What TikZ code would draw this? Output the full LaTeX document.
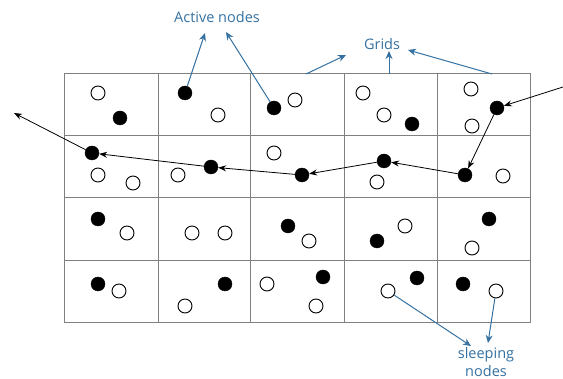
\documentclass[tikz,border=0pt]{standalone}
\usepackage{fontspec}
\setmainfont{Open Sans}
\usetikzlibrary{arrows.meta}
\definecolor{callout}{RGB}{52,112,160}
\definecolor{gridgray}{RGB}{128,128,128}
\tikzset{
  awake/.style={circle, draw=black, fill=black, inner sep=0pt, minimum size=14pt},
  asleep/.style={circle, draw=black, line width=0.9pt, fill=white, inner sep=0pt, minimum size=14pt},
  hop/.style={draw=black, line width=0.8pt, -{Stealth[length=8pt,width=6pt]}},
  pointer/.style={draw=callout, line width=1pt, -{Stealth[length=8pt,width=7pt]}},
  lbl/.style={text=callout, font=\fontsize{14.5}{18}\selectfont, inner sep=0pt, align=center}
}
\begin{document}
\begin{tikzpicture}[x=1pt, y=-1pt]
\useasboundingbox (0,0) rectangle (563,379);

% 5 x 4 grid of cells
\draw[gridgray, line width=1pt] (64,74) rectangle (530,323);
\foreach \xx in {158,250,344,437} \draw[gridgray, line width=1pt] (\xx,74) -- (\xx,323);
\foreach \yy in {136,198,261} \draw[gridgray, line width=1pt] (64,\yy) -- (530,\yy);

% row 1
\node[asleep] (a11) at (98,93) {};
\node[awake]  (b11) at (120,118) {};
\node[awake]  (b12) at (185,93) {};
\node[asleep] (a12) at (218,115) {};
\node[awake]  (b13) at (274,108) {};
\node[asleep] (a13) at (295,100) {};
\node[asleep] (a14) at (363,93) {};
\node[asleep] (c14) at (384,115) {};
\node[awake]  (b14) at (412,124) {};
\node[asleep] (a15) at (471,89) {};
\node[awake]  (b15) at (497,108) {};
\node[asleep] (c15) at (472,126) {};

% row 2
\node[awake]  (b21) at (92,153) {};
\node[asleep] (a21) at (98,175) {};
\node[asleep] (c21) at (133,183) {};
\node[asleep] (a22) at (178,175) {};
\node[awake]  (b22) at (211,167) {};
\node[asleep] (a23) at (274,153) {};
\node[awake]  (b23) at (302,175) {};
\node[awake]  (b24) at (384,161) {};
\node[asleep] (a24) at (377,182) {};
\node[awake]  (b25) at (465,175) {};
\node[asleep] (a25) at (503,176) {};

% row 3
\node[awake]  (b31) at (98,219) {};
\node[asleep] (a31) at (127,233) {};
\node[asleep] (a32) at (192,233) {};
\node[asleep] (c32) at (225,233) {};
\node[awake]  (b33) at (288,226) {};
\node[asleep] (a33) at (309,241) {};
\node[awake]  (b34) at (377,241) {};
\node[asleep] (a34) at (405,226) {};
\node[awake]  (b35) at (489,219) {};
\node[asleep] (a35) at (472,248) {};

% row 4
\node[awake]  (b41) at (98,284) {};
\node[asleep] (a41) at (119,291) {};
\node[awake]  (b42) at (225,284) {};
\node[asleep] (a42) at (185,306) {};
\node[asleep] (a43) at (267,284) {};
\node[awake]  (b43) at (323,277) {};
\node[asleep] (c43) at (316,306) {};
\node[asleep] (a44) at (388,291) {};
\node[awake]  (b44) at (417,278) {};
\node[awake]  (b45) at (463,284) {};
\node[asleep] (a45) at (496,291) {};

% route through the active nodes
\coordinate (entry) at (563,87);
\coordinate (exit) at (14,113);
\draw[hop] (entry) -- (b15);
\draw[hop] (b15) -- (b25);
\draw[hop] (b25) -- (b24);
\draw[hop] (b24) -- (b23);
\draw[hop] (b23) -- (b22);
\draw[hop] (b22) -- (b21);
\draw[hop] (b21) -- (exit);

% labels
\node[lbl] (activelbl) at (217,17) {Active nodes};
\node[lbl] (gridlbl) at (382,44) {Grids};
\node[lbl] (sleeplbl) at (486,362) {sleeping\\nodes};

\coordinate (actA) at (205,33);
\coordinate (actB) at (226,32);
\draw[pointer] (b12) -- (actA);
\draw[pointer] (b13) -- (actB);

\coordinate (gl1) at (306,74);
\coordinate (gl2) at (389,74);
\coordinate (gl3) at (492,74);
\coordinate (gt1) at (346,55);
\coordinate (gt2) at (389,51);
\coordinate (gt3) at (408,50);
\draw[pointer] (gl1) -- (gt1);
\draw[pointer] (gl2) -- (gt2);
\draw[pointer] (gl3) -- (gt3);

\coordinate (slA) at (471,346);
\coordinate (slB) at (488,343);
\draw[pointer] (a44) -- (slA);
\draw[pointer] (a45) -- (slB);
\end{tikzpicture}
\end{document}
